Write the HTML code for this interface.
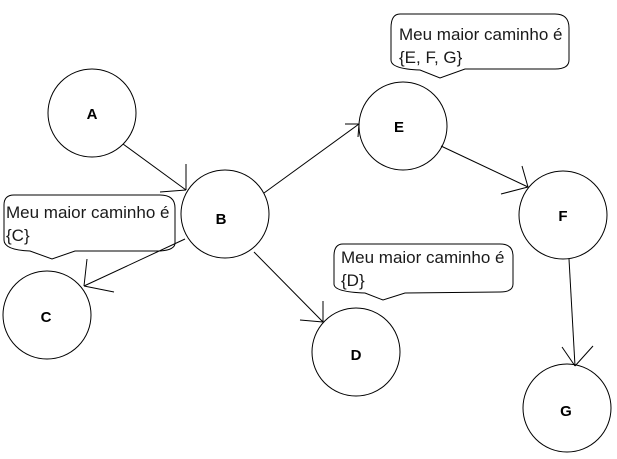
<!DOCTYPE html>
<html><head><style>
html,body{margin:0;padding:0;background:#fff;width:617px;height:459px;overflow:hidden}
svg{display:block}
.n{font-family:"Liberation Sans",sans-serif;font-weight:bold;font-size:15px;fill:#000;text-anchor:middle}
.t{font-family:"Liberation Sans",sans-serif;font-size:17px;fill:#1a1a1a}
</style></head><body>
<svg width="617" height="459" viewBox="0 0 617 459" xmlns="http://www.w3.org/2000/svg" fill="none" stroke="#000" stroke-width="1">
<circle cx="92" cy="113" r="44"/>
<circle cx="225" cy="214" r="44"/>
<circle cx="47" cy="315" r="44"/>
<circle cx="356" cy="352" r="44"/>
<circle cx="403" cy="126" r="44"/>
<circle cx="563" cy="215" r="44"/>
<circle cx="567" cy="408" r="44"/>
<g>
<line x1="123" y1="144" x2="186" y2="190"/><line x1="186" y1="190" x2="186" y2="164"/><line x1="186" y1="190" x2="160" y2="192"/>
<line x1="264" y1="193" x2="359" y2="124"/><line x1="359" y1="124" x2="345" y2="124"/><line x1="359" y1="124" x2="358" y2="137"/>
<line x1="185" y1="239" x2="84" y2="286"/><line x1="84" y1="286" x2="87" y2="259"/><line x1="84" y1="286" x2="114" y2="292"/>
<line x1="254" y1="252" x2="323" y2="322"/><line x1="323" y1="322" x2="323" y2="301"/><line x1="323" y1="322" x2="300" y2="320"/>
<line x1="441" y1="146" x2="528" y2="187"/><line x1="528" y1="187" x2="522" y2="166"/><line x1="528" y1="187" x2="501" y2="194"/>
<line x1="569" y1="259" x2="575" y2="366"/><line x1="575" y1="366" x2="562" y2="347"/><line x1="575" y1="366" x2="593" y2="346"/>
</g>
<path d="M14,195 H160 Q175,195 175,208 V243 Q175,250 160,251 L75,251 L52,259 L30,251 Q4,250 4,240 V205 Q4,195 14,195 Z"/>
<path d="M400,14 H555 Q569,14 569,28 V60 Q569,69 555,69 L465,69 L440,78 L420,70 Q391,69 391,60 V28 Q391,14 400,14 Z"/>
<path d="M343,244 H500 Q513,244 513,256 V284 Q513,292 500,292 L405,293 L383,300 L365,293 Q334,292 334,284 V256 Q334,244 343,244 Z"/>
<g stroke="none">
<text class="n" x="92" y="119">A</text>
<text class="n" x="221" y="224">B</text>
<text class="n" x="46" y="322">C</text>
<text class="n" x="356" y="360">D</text>
<text class="n" x="399" y="132">E</text>
<text class="n" x="563" y="221">F</text>
<text class="n" x="566" y="416">G</text>
<text class="t" x="6" y="218">Meu maior caminho é</text>
<text class="t" x="6" y="241">{C}</text>
<text class="t" x="399" y="40">Meu maior caminho é</text>
<text class="t" x="399" y="63">{E, F, G}</text>
<text class="t" x="341" y="263">Meu maior caminho é</text>
<text class="t" x="341" y="286">{D}</text>
</g>
</svg>
</body></html>
